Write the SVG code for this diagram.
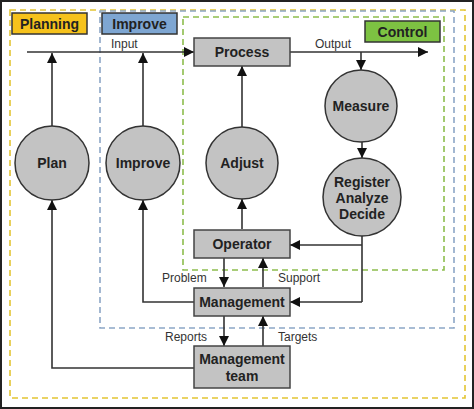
<svg xmlns="http://www.w3.org/2000/svg" width="474" height="409" viewBox="0 0 474 409">
<defs>
<marker id="ah" viewBox="0 0 10 10" refX="10" refY="5" markerWidth="10" markerHeight="10" markerUnits="userSpaceOnUse" orient="auto">
<path d="M0,0 L10,5 L0,10 z" fill="#111"/>
</marker>
<style>
.box{fill:#c3c3c3;stroke:#444;stroke-width:1.5}
.circ{fill:#c3c3c3;stroke:#333;stroke-width:1.5}
.nl{font-family:"Liberation Sans",Arial,sans-serif;font-weight:bold;font-size:14px;fill:#222;text-anchor:middle}
.el{font-family:"Liberation Sans",Arial,sans-serif;font-size:12px;fill:#333}
.c{fill:none;stroke:#333;stroke-width:1.6}
.ca{fill:none;stroke:#333;stroke-width:1.6;marker-end:url(#ah)}
.dash{fill:none;stroke-width:1.6;stroke-dasharray:6 4}
</style>
</defs>
<rect x="1" y="1" width="472" height="407" fill="#fff" stroke="#222" stroke-width="2"/>
<g id="regions">
<rect class="dash" x="10" y="10" width="455" height="388" stroke="#e3c532"/>
<rect class="dash" x="100" y="11" width="354" height="317" stroke="#8ca6c6"/>
<rect class="dash" x="183" y="17" width="261" height="253" stroke="#8dbd4e"/>
</g>
<g id="label-planning">
<rect x="12" y="13" width="75" height="21" fill="#f6c21c" stroke="#333" stroke-width="1.5"/>
<text class="nl" x="49.5" y="29">Planning</text>
</g>
<g id="label-improve">
<rect x="102" y="13" width="75" height="21" fill="#7ea6d2" stroke="#333" stroke-width="1.5"/>
<text class="nl" x="139.5" y="29">Improve</text>
</g>
<g id="label-control">
<rect x="365" y="21" width="75" height="21" fill="#7dc242" stroke="#333" stroke-width="1.5"/>
<text class="nl" x="402.5" y="37">Control</text>
</g>
<g id="connectors">
<path class="ca" d="M27,52 H194"/>
<path class="ca" d="M290,52 H428"/>
<path class="ca" d="M52,126 V53"/>
<path class="ca" d="M143,126 V53"/>
<path class="ca" d="M242,127 V66"/>
<path class="ca" d="M361,52 V70"/>
<path class="ca" d="M362,142 V158"/>
<path class="ca" d="M242,229 V199"/>
<path class="c" d="M362,236 V302"/>
<path class="ca" d="M362,245 H290"/>
<path class="ca" d="M362,302 H290"/>
<path class="ca" d="M224,258 V287"/>
<path class="ca" d="M263,287 V258"/>
<path class="ca" d="M224,316 V346"/>
<path class="ca" d="M263,346 V316"/>
<path class="ca" d="M194,302 H143 V200"/>
<path class="ca" d="M194,368 H52 V200"/>
<text class="el" x="111" y="48">Input</text>
<text class="el" x="315" y="48">Output</text>
<text class="el" x="162" y="282">Problem</text>
<text class="el" x="278" y="282">Support</text>
<text class="el" x="165" y="341">Reports</text>
<text class="el" x="278" y="341">Targets</text>
</g>
<g id="node-process">
<rect class="box" x="194" y="38" width="96" height="28"/>
<text class="nl" x="242" y="57">Process</text>
</g>
<g id="node-plan">
<circle class="circ" cx="52" cy="163" r="37"/>
<text class="nl" x="52" y="168">Plan</text>
</g>
<g id="node-improve">
<circle class="circ" cx="143" cy="163" r="37"/>
<text class="nl" x="143" y="168">Improve</text>
</g>
<g id="node-adjust">
<circle class="circ" cx="242" cy="163" r="36"/>
<text class="nl" x="242" y="168">Adjust</text>
</g>
<g id="node-measure">
<circle class="circ" cx="361" cy="106" r="36"/>
<text class="nl" x="361" y="111">Measure</text>
</g>
<g id="node-rad">
<circle class="circ" cx="362" cy="197" r="39"/>
<text class="nl" x="362" y="187">Register</text>
<text class="nl" x="362" y="203">Analyze</text>
<text class="nl" x="362" y="219">Decide</text>
</g>
<g id="node-operator">
<rect class="box" x="194" y="230" width="96" height="28"/>
<text class="nl" x="242" y="249">Operator</text>
</g>
<g id="node-management">
<rect class="box" x="194" y="288" width="96" height="28"/>
<text class="nl" x="242" y="307">Management</text>
</g>
<g id="node-management-team">
<rect class="box" x="194" y="346" width="96" height="42"/>
<text class="nl" x="242" y="364">Management</text>
<text class="nl" x="242" y="381">team</text>
</g>
</svg>
